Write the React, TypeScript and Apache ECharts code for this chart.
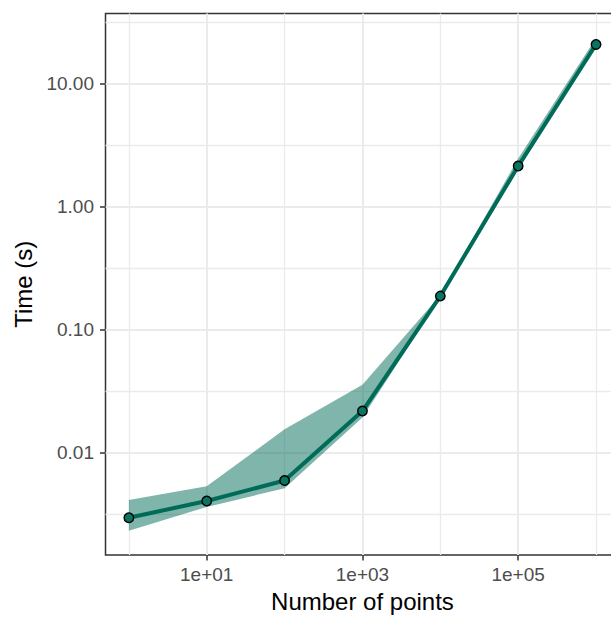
import React, { useEffect, useRef } from "react";
import * as echarts from "echarts";

// Data
const nPoints = [1, 10, 100, 1000, 10000, 100000, 1000000];
const timeMedian = [0.00294, 0.00402, 0.0059, 0.0217, 0.187, 2.14, 20.9];
const timeLower = [0.0023, 0.0036, 0.0051, 0.0192, 0.182, 2.0, 20.3];
const timeUpper = [0.0041, 0.0053, 0.0154, 0.0356, 0.19, 2.46, 23.6];

// Tick positions (powers of ten, as exponents)
const xMajorExp = [1, 3, 5];
const xMinorExp = [0, 2, 4, 6];
const yMajorExp = [-2, -1, 0, 1];
const yMinorExp = [-2.5, -1.5, -0.5, 0.5, 1.5];

const X_MIN = -0.3;
const X_MAX = 6.3;
const Y_MIN = -2.836;
const Y_MAX = 1.572;

const FONT = "'Liberation Sans', Arial, Helvetica, sans-serif";
const LINE_COLOR = "#006B58";

export default function App() {
  const ref = useRef<HTMLDivElement>(null);

  useEffect(() => {
    document.body.style.margin = "0";
    if (!ref.current) return;
    const chart = echarts.init(ref.current, undefined, { renderer: "svg" });

    const lx = nPoints.map((v) => Math.log10(v));
    const lineData = nPoints.map((_, i) => [lx[i], Math.log10(timeMedian[i])]);
    const ribbonData = nPoints.map((_, i) => [
      lx[i],
      Math.log10(timeLower[i]),
      Math.log10(timeUpper[i]),
    ]);

    const gridLine = (w: number) => ({
      show: true,
      lineStyle: { color: "#EBEBEB", width: w },
    });

    const option: any = {
      animation: false,
      backgroundColor: "#ffffff",
      grid: {
        left: 105.5,
        top: 13.5,
        right: 0.6,
        bottom: 59.5,
        show: true,
        borderColor: "#333333",
        borderWidth: 1.5,
        backgroundColor: "transparent",
        containLabel: false,
      },
      xAxis: [
        {
          type: "value",
          min: X_MIN,
          max: X_MAX,
          position: "bottom",
          axisLine: { show: false, onZero: false },
          axisTick: {
            show: true,
            customValues: xMajorExp,
            length: 5.5,
            lineStyle: { color: "#333333", width: 1.5 },
          },
          axisLabel: {
            show: true,
            customValues: xMajorExp,
            formatter: (v: number) => "1e+" + String(Math.round(v)).padStart(2, "0"),
            color: "#4D4D4D",
            fontSize: 19,
            fontFamily: FONT,
            margin: 10,
          },
          splitLine: gridLine(2),
          name: "Number of points",
          nameLocation: "middle",
          nameGap: 33,
          nameTextStyle: { color: "#000000", fontSize: 24, fontFamily: FONT },
        },
        {
          type: "value",
          min: X_MIN,
          max: X_MAX,
          position: "top",
          axisLine: { show: false, onZero: false },
          axisTick: { show: false, customValues: xMinorExp },
          axisLabel: { show: false, customValues: xMinorExp },
          splitLine: gridLine(1.3),
        },
      ],
      yAxis: [
        {
          type: "value",
          min: Y_MIN,
          max: Y_MAX,
          position: "left",
          axisLine: { show: false, onZero: false },
          axisTick: {
            show: true,
            customValues: yMajorExp,
            length: 5.5,
            lineStyle: { color: "#333333", width: 1.5 },
          },
          axisLabel: {
            show: true,
            customValues: yMajorExp,
            formatter: (v: number) => Math.pow(10, v).toFixed(2),
            color: "#4D4D4D",
            fontSize: 19,
            fontFamily: FONT,
            margin: 11.5,
          },
          splitLine: gridLine(2),
          name: "Time (s)",
          nameLocation: "middle",
          nameGap: 64,
          nameTextStyle: { color: "#000000", fontSize: 24, fontFamily: FONT },
        },
        {
          type: "value",
          min: Y_MIN,
          max: Y_MAX,
          position: "right",
          axisLine: { show: false, onZero: false },
          axisTick: { show: false, customValues: yMinorExp },
          axisLabel: { show: false, customValues: yMinorExp },
          splitLine: gridLine(1.3),
        },
      ],
      series: [
        {
          type: "custom",
          xAxisIndex: 0,
          yAxisIndex: 0,
          data: ribbonData,
          encode: { x: 0, y: [1, 2] },
          z: 2,
          renderItem: (params: any, api: any) => {
            if (params.dataIndex !== 0) return null;
            const upper = ribbonData.map((d) => api.coord([d[0], d[2]]));
            const lower = ribbonData
              .slice()
              .reverse()
              .map((d) => api.coord([d[0], d[1]]));
            return {
              type: "polygon",
              shape: { points: upper.concat(lower) },
              style: { fill: LINE_COLOR, opacity: 0.5 },
            };
          },
        },
        {
          type: "line",
          xAxisIndex: 0,
          yAxisIndex: 0,
          data: lineData,
          z: 3,
          symbol: "circle",
          symbolSize: 9.5,
          showSymbol: true,
          lineStyle: { color: LINE_COLOR, width: 4 },
          itemStyle: { color: "#0A7361", borderColor: "#000000", borderWidth: 1.4 },
        },
      ],
    };

    chart.setOption(option);
    return () => chart.dispose();
  }, []);

  return (
    <div style={{ position: "absolute", left: 0, top: 0, width: 611, height: 618, overflow: "hidden" }}>
      <div ref={ref} style={{ width: 620, height: 618 }} />
    </div>
  );
}
